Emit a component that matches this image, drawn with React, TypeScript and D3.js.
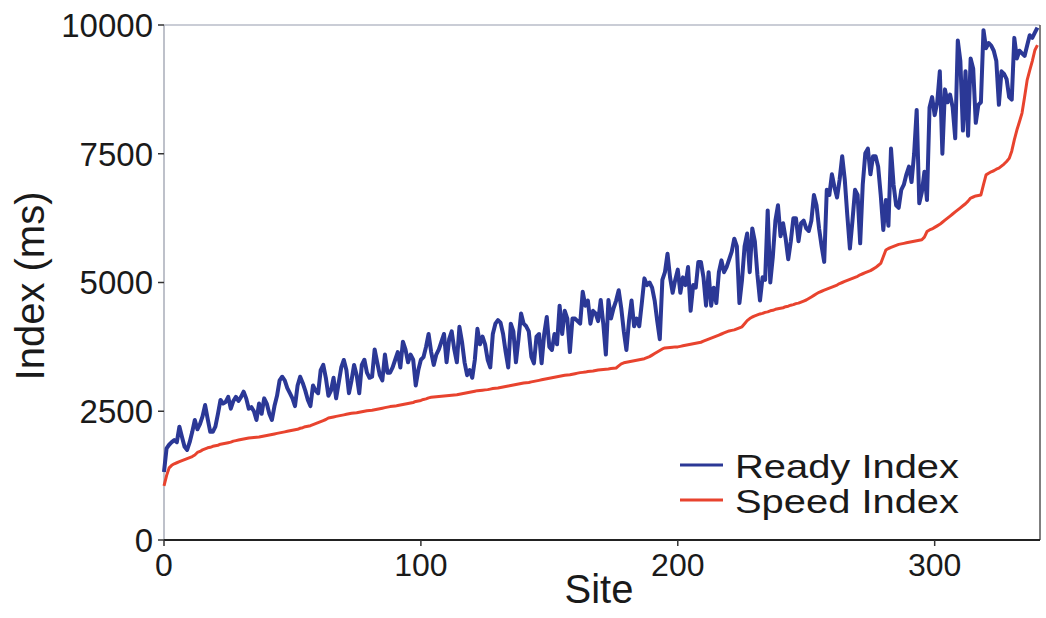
import React from "react";
import * as d3 from "d3";

const readyIndex: number[] = [
  1320, 1780, 1850, 1900, 1940, 1900, 2200, 2000, 1810, 1750,
  1900, 2100, 2330, 2150, 2250, 2400, 2620, 2350, 2100, 2100,
  2200, 2450, 2720, 2650, 2680, 2780, 2550, 2700, 2780, 2700,
  2780, 2880, 2750, 2550, 2580, 2500, 2330, 2650, 2450, 2750,
  2650, 2450, 2330, 2600, 2800, 3100, 3170, 3100, 2950, 2850,
  2750, 2600, 3000, 3170, 3050, 2900, 2720, 2600, 3000, 2900,
  2850, 3300, 3400, 3150, 2800, 2900, 3150, 2750, 3050, 3350,
  3496, 3300, 2850, 3100, 3400, 3200, 2850, 3400, 3500, 3250,
  3150, 3170, 3700, 3450, 3200, 3100, 3600, 3250, 3250, 3350,
  3500, 3650, 3350, 3850, 3700, 3450, 3600, 3500, 3000, 3300,
  3500, 3550, 3750, 4000, 3650, 3400, 3600, 3700, 3850, 4000,
  3450, 3900, 4050, 3700, 3450, 4140, 3850, 3450, 3200, 3300,
  3150, 3500, 4100, 3800, 3950, 3800, 3500, 3350, 4000, 4200,
  4270, 4220, 4000, 3650, 3350, 4200, 4050, 3450, 3900, 4400,
  4200, 4150, 4050, 3560, 3430, 3950, 4000, 3430, 4000, 4330,
  3750, 3690, 4000, 3800, 4550, 4000, 4450, 4300, 3650, 4300,
  4300, 4250, 4200, 4820, 4550, 4650, 4200, 4450, 4400, 4250,
  4660, 4200, 3600, 4660, 4300, 4500, 4650, 4850, 4500, 4050,
  3690, 4250, 4650, 4150, 4300, 4150, 4600, 5080, 4950, 5000,
  4900, 4650, 4250, 3900, 5050, 5200, 5560, 5100, 4800, 5050,
  5250, 4800, 5100, 4950, 5300, 4450, 4950, 4900, 5400, 5400,
  5100, 4550, 5200, 4550, 4900, 4600, 5200, 5430, 5200, 5300,
  5450, 5600, 5850, 5700, 4600, 5050, 5700, 5950, 5200, 6050,
  5800, 5150, 4650, 5100, 5050, 6400, 5000, 5500, 6200, 6500,
  5900, 6150, 5850, 5450, 5800, 6250, 6250, 5800, 6150, 6200,
  6050, 6000, 6200, 6700, 6500, 6050, 5700, 5400, 6800, 6700,
  7100, 6850, 6650, 7000, 7450, 7000, 6300, 5660, 6200, 6800,
  6700, 5760, 6900, 7510, 7600, 7100, 7450, 7450, 7250, 6700,
  6020, 6600, 6100, 7600, 6900, 6500, 6450, 6800, 6900, 7100,
  7250, 6950, 7500, 8350, 6540, 6750, 7150, 6600, 8400, 8600,
  8250, 8500, 9100, 7500, 8750, 8500, 8650, 8400, 7800, 9700,
  9300, 7950, 9100, 7850, 9350, 9150, 8100, 8450, 8500, 9900,
  9550, 9650, 9600, 9500, 9300, 8450, 9100, 9050, 8950, 8600,
  8550, 9750, 9350, 9500, 9450, 9400, 9600, 9800, 9750, 9850,
  9950,
];

const speedIndex: number[] = [
  1050, 1250, 1400, 1450, 1480, 1500, 1520, 1540, 1560, 1580,
  1600, 1620, 1650, 1700, 1720, 1750, 1770, 1790, 1800, 1820,
  1830, 1840, 1860, 1870, 1880, 1890, 1900, 1920, 1930, 1940,
  1950, 1960, 1970, 1980, 1985, 1990, 1995, 2000, 2010, 2020,
  2030, 2040, 2050, 2060, 2070, 2080, 2090, 2100, 2110, 2120,
  2130, 2140, 2150, 2170, 2180, 2200, 2210, 2220, 2240, 2260,
  2280, 2300, 2320, 2340, 2370, 2380, 2390, 2400, 2410, 2420,
  2430, 2440, 2450, 2460, 2465, 2470, 2480, 2490, 2500, 2510,
  2515, 2520, 2530, 2540, 2550, 2560, 2570, 2580, 2590, 2595,
  2600, 2610, 2620, 2630, 2640, 2650, 2660, 2670, 2690, 2700,
  2710, 2730, 2740, 2760, 2770, 2775, 2780, 2785, 2790, 2795,
  2800, 2805, 2810, 2815, 2820, 2830, 2840, 2850, 2860, 2870,
  2880, 2890, 2900, 2905, 2910, 2915, 2920, 2930, 2940, 2945,
  2950, 2960, 2970, 2980, 2990, 3000, 3010, 3020, 3030, 3040,
  3050, 3055, 3060, 3070, 3080, 3090, 3100, 3110, 3120, 3130,
  3140, 3150, 3160, 3170, 3180, 3190, 3200, 3205, 3210, 3220,
  3230, 3240, 3250, 3255, 3260, 3270, 3275, 3280, 3290, 3300,
  3305, 3310, 3315, 3320, 3330, 3335, 3340, 3380, 3420, 3440,
  3450, 3460, 3470, 3480, 3490, 3500, 3510, 3520, 3540, 3560,
  3590, 3620, 3650, 3680, 3710, 3730, 3735, 3740, 3745, 3750,
  3750, 3760, 3770, 3780, 3790, 3800, 3810, 3820, 3830, 3840,
  3860, 3880, 3900, 3920, 3940, 3960, 3980, 4000, 4020, 4040,
  4060, 4070, 4080, 4100, 4120, 4140, 4200, 4260, 4300, 4330,
  4350, 4370, 4390, 4400, 4420, 4430, 4450, 4460, 4480, 4490,
  4500, 4510, 4530, 4540, 4560, 4570, 4590, 4600, 4620, 4640,
  4660, 4690, 4720, 4750, 4780, 4810, 4830, 4850, 4870, 4890,
  4910, 4930, 4950, 4980, 5000, 5020, 5040, 5060, 5080, 5100,
  5120, 5150, 5170, 5190, 5210, 5230, 5260, 5290, 5330, 5370,
  5500, 5630, 5660, 5680, 5700, 5720, 5740, 5750, 5760, 5770,
  5780, 5790, 5800, 5810, 5820, 5830, 5880, 5990, 6020, 6040,
  6070, 6100, 6130, 6170, 6210, 6250, 6290, 6330, 6370, 6410,
  6450, 6490, 6530, 6580, 6640, 6660, 6680, 6690, 6700, 6900,
  7090, 7120, 7150, 7170, 7200, 7220, 7260, 7300, 7350, 7410,
  7550, 7770, 7960, 8120, 8290, 8600, 8930, 9120, 9300, 9510,
  9610,
];

const xTicks: number[] = [0, 100, 200, 300];
const yTicks: number[] = [0, 2500, 5000, 7500, 10000];
const seriesNames: string[] = ["Ready Index", "Speed Index"];
const seriesColors: string[] = ["#2b3896", "#e8432e"];

const W = 1046;
const H = 618;
const FONT = "'Liberation Sans', Arial, Helvetica, sans-serif";

export default function App() {
  const x = d3.scaleLinear().domain([0, 341]).range([164, 1040]);
  const y = d3.scaleLinear().domain([0, 10000]).range([540, 25]);

  const line = d3
    .line<number>()
    .x((_, i) => x(i))
    .y((d) => y(d));

  const [x0, x1] = x.range();
  const [y0, y1] = y.range();

  return (
    <svg
      width={W}
      height={H}
      style={{ position: "absolute", left: 0, top: 0, background: "#fff" }}
      fontFamily={FONT}
    >
      <rect x={0} y={0} width={W} height={H} fill="#fff" />
      {/* frame */}
      <line x1={x0} x2={x1} y1={y1} y2={y1} stroke="#b8bcc8" strokeWidth={1.5} />
      <line x1={x0} x2={x0} y1={y1} y2={y0} stroke="#a8acb8" strokeWidth={1.5} />
      <line x1={x1} x2={x1} y1={y1} y2={y0} stroke="#555" strokeWidth={1.5} />

      <path
        d={line(speedIndex) || ""}
        fill="none"
        stroke={seriesColors[1]}
        strokeWidth={3}
        strokeLinejoin="round"
      />
      <path
        d={line(readyIndex) || ""}
        fill="none"
        stroke={seriesColors[0]}
        strokeWidth={4}
        strokeLinejoin="round"
      />

      <line x1={x0} x2={x1} y1={y0} y2={y0} stroke="#222" strokeWidth={1.8} />

      {/* y axis ticks */}
      {yTicks.map((t) => (
        <g key={"y" + t}>
          <line x1={x0 - 6} x2={x0} y1={y(t)} y2={y(t)} stroke="#333" strokeWidth={1.5} />
          <text
            x={x0 - 11}
            y={y(t)}
            dy="0.36em"
            textAnchor="end"
            fontSize={33}
            fill="#1a1a1a"
          >
            {t}
          </text>
        </g>
      ))}

      {/* x axis ticks */}
      {xTicks.map((t) => (
        <g key={"x" + t}>
          <line x1={x(t)} x2={x(t)} y1={y0} y2={y0 + 6} stroke="#333" strokeWidth={1.5} />
          <text x={x(t)} y={576} textAnchor="middle" fontSize={32} fill="#1a1a1a">
            {t}
          </text>
        </g>
      ))}

      <text x={599} y={603} textAnchor="middle" fontSize={40} fill="#1a1a1a">
        Site
      </text>
      <text
        transform="translate(44,286) rotate(-90)"
        textAnchor="middle"
        fontSize={40}
        fill="#1a1a1a"
      >
        Index (ms)
      </text>

      {/* legend */}
      {seriesNames.map((name, i) => (
        <g key={name}>
          <line
            x1={680}
            x2={723}
            y1={465 + i * 35}
            y2={465 + i * 35}
            stroke={seriesColors[i]}
            strokeWidth={3}
          />
          <text
            x={735}
            y={478 + i * 35}
            fontSize={34}
            textLength={224}
            lengthAdjust="spacingAndGlyphs"
            fill="#1a1a1a"
          >
            {name}
          </text>
        </g>
      ))}
    </svg>
  );
}
